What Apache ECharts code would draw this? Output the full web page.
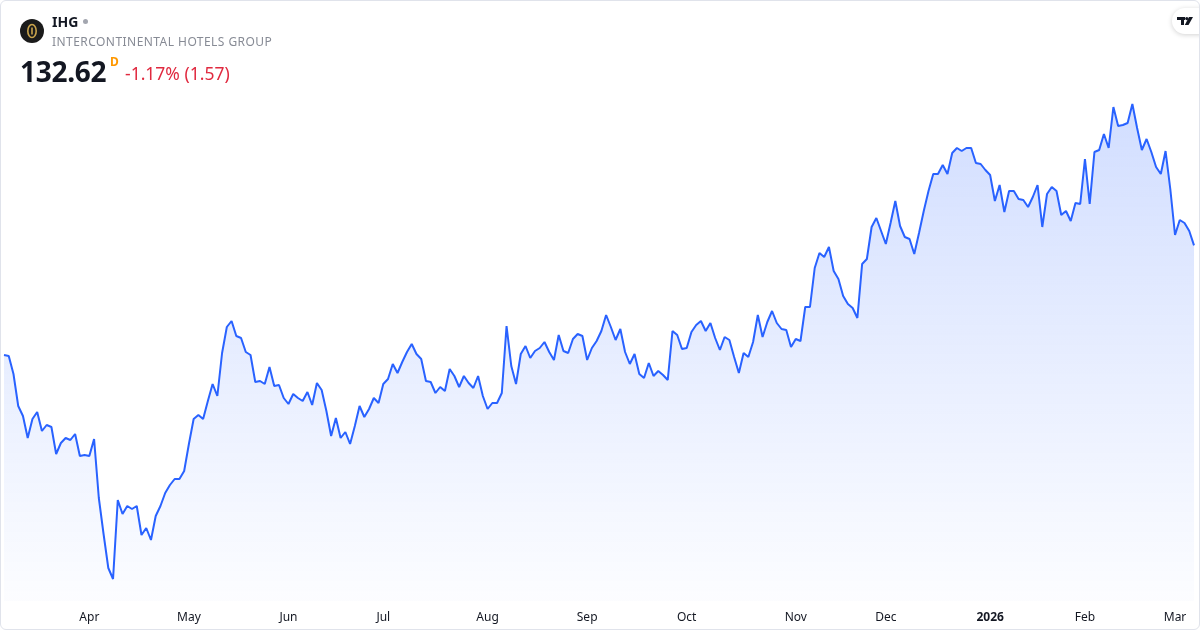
<!DOCTYPE html>
<html>
<head>
<meta charset="utf-8">
<script src="https://cdn.jsdelivr.net/npm/echarts@6/dist/echarts.min.js"></script>
<style>
  html, body { margin: 0; padding: 0; background: #fff; }
  #frame {
    position: absolute; left: 0; top: 0; width: 1198px; height: 628px;
    border: 1px solid #e0e3eb; border-radius: 6px; overflow: hidden;
    font-family: "Noto Sans", Roboto, sans-serif;
  }
  #myChart { position: absolute; left: 0; top: 0; width: 1198px; height: 628px; }
  .hdr { position: absolute; white-space: nowrap; z-index: 2; }
  #logo {
    position: absolute; left: 19px; top: 18px; width: 24px; height: 24px;
    border-radius: 50%; background: #1b1b1b; z-index: 2;
  }
  #tv {
    position: absolute; left: 1171px; top: 7px; width: 40px; height: 26px;
    border-radius: 13px; background: #fff; z-index: 2;
    box-shadow: 0 1px 5px rgba(0,0,0,0.18);
  }
</style>
</head>
<body>
<div id="frame">
  <div id="myChart"></div>
  <div id="logo">
    <svg width="24" height="24" viewBox="0 0 24 24">
      <ellipse cx="12" cy="12" rx="4.2" ry="6.5" fill="none" stroke="#c9a44c" stroke-width="1.6"/>
      <rect x="11.2" y="8.5" width="1.6" height="7" fill="#c9a44c"/>
    </svg>
  </div>
  <div class="hdr" style="left:51px; top:11px; font-size:14px; font-weight:700; color:#131722;">IHG</div>
  <div class="hdr" style="left:82px; top:18px; width:5px; height:5px; border-radius:50%; background:#a3a6af;"></div>
  <div class="hdr" style="left:51px; top:32px; font-size:12px; letter-spacing:0.45px; color:#878b95;">INTERCONTINENTAL HOTELS GROUP</div>
  <div class="hdr" style="left:19px; top:51px; font-size:28px; font-weight:700; color:#131722; letter-spacing:-0.3px;">132.62</div>
  <div class="hdr" style="left:109px; top:52px; font-size:12px; font-weight:700; color:#ff9800;">D</div>
  <div class="hdr" style="left:124px; top:60px; font-size:17.5px; color:#e0293f;">-1.17% (1.57)</div>
  <div id="tv">
    <svg width="26" height="26" viewBox="0 0 26 26">
      <rect x="5" y="9" width="8" height="3" fill="#131722"/>
      <rect x="9" y="9" width="3" height="8" fill="#131722"/>
      <circle cx="14.8" cy="10.6" r="1.6" fill="#131722"/>
      <polygon points="17,9 21,9 16.5,17 12.8,17" fill="#131722"/>
    </svg>
  </div>
</div>

<script>
// daily closes (one array per month)
const closesMar25 = [120.56, 120.45, 118.47, 114.95, 113.85, 111.43, 113.52, 114.29, 112.2, 112.86, 112.64, 109.67, 110.88, 111.43, 111.21, 111.87, 109.45, 109.56];
const closesApr25 = [109.45, 111.32, 104.83, 100.87, 97.13, 95.92, 104.61, 103.07, 103.95, 103.62, 103.95, 100.76, 101.53, 100.21, 102.85, 103.95, 105.38, 106.26, 106.92, 106.92, 107.8];
const closesMay25 = [110.77, 113.52, 113.96, 113.52, 115.5, 117.37, 116.05, 120.78, 123.64, 124.3, 122.65, 122.43, 120.89, 120.56, 117.59, 117.7, 117.37, 119.24, 117.15, 117.26, 115.83];
const closesJun25 = [115.17, 116.27, 115.83, 115.5, 116.49, 115.06, 117.48, 116.71, 114.4, 111.65, 113.63, 111.43, 112.09, 110.77, 112.75, 114.95, 113.74, 114.62, 115.83, 115.28];
const closesJul25 = [117.37, 117.92, 119.57, 118.58, 119.79, 120.89, 121.77, 120.67, 120.12, 117.7, 117.59, 116.38, 117.04, 116.6, 119.02, 118.25, 117.04, 118.25, 117.48, 116.93, 118.25, 116.05];
const closesAug25 = [114.62, 115.28, 115.28, 116.38, 123.75, 119.35, 117.37, 120.67, 121.55, 120.23, 121.0, 121.33, 121.99, 120.89, 120.01, 122.76, 121.0, 120.78, 122.32, 122.87, 122.65];
const closesSep25 = [120.01, 121.33, 122.1, 123.2, 124.96, 123.64, 122.21, 123.42, 120.89, 119.57, 120.67, 118.47, 118.03, 119.68, 118.25, 118.8, 118.36, 117.81, 123.2, 122.76, 121.22];
const closesOct25 = [121.33, 123.09, 123.86, 124.3, 123.2, 124.08, 122.43, 121.11, 122.54, 122.21, 120.34, 118.58, 120.78, 120.34, 121.99, 124.96, 122.54, 124.19, 125.4, 124.08, 123.42, 123.31, 121.44];
const closesNov25 = [122.32, 122.1, 125.84, 125.84, 130.13, 131.78, 131.34, 132.44, 129.8, 128.92, 127.05, 126.17, 125.73, 124.63, 130.57, 131.12, 134.64, 135.63, 134.2];
const closesDec25 = [132.77, 135.08, 137.5, 134.75, 133.54, 133.32, 131.67, 133.98, 136.4, 138.6, 140.47, 140.47, 141.46, 140.47, 142.78, 143.33, 143.0, 143.33, 143.33, 141.68, 141.57, 140.91];
const closesJan26 = [140.36, 137.5, 139.26, 136.29, 138.6, 138.6, 137.72, 137.61, 136.84, 137.94, 139.26, 134.64, 138.27, 139.04, 138.6, 135.96, 136.4, 135.3, 137.28, 137.17];
const closesFeb26 = [142.12, 137.17, 142.89, 143.11, 144.87, 143.33, 147.84, 145.75, 145.86, 146.08, 148.17, 145.53, 143.11, 144.32, 142.89, 141.24, 140.47, 143.0, 138.82];
const closesMar26 = [133.76, 135.41, 135.08, 134.2, 132.62];

const monthNames = ["Jan", "Feb", "Mar", "Apr", "May", "Jun", "Jul", "Aug", "Sep", "Oct", "Nov", "Dec"];
const marketHolidays = ["2025-04-18", "2025-05-26", "2025-06-19", "2025-07-04", "2025-09-01",
  "2025-11-27", "2025-12-25", "2026-01-01", "2026-01-19", "2026-02-16"];

const closes = [].concat(closesMar25, closesApr25, closesMay25, closesJun25, closesJul25, closesAug25,
  closesSep25, closesOct25, closesNov25, closesDec25, closesJan26, closesFeb26, closesMar26);

// trading days 2025-03-06 .. 2026-03-06
const dates = [];
let d = new Date(Date.UTC(2025, 2, 6));
const end = new Date(Date.UTC(2026, 2, 6));
while (d <= end) {
  const s = d.toISOString().slice(0, 10);
  const wd = d.getUTCDay();
  if (wd !== 0 && wd !== 6 && marketHolidays.indexOf(s) < 0) dates.push(s);
  d = new Date(d.getTime() + 86400000);
}

function isMonthStart(i) {
  return i > 0 && dates[i].slice(5, 7) !== dates[i - 1].slice(5, 7);
}

let myChart = echarts.init(document.getElementById("myChart"));
myChart.setOption({
  animation: false,
  grid: { left: 3, right: 5, top: 100, bottom: 28 },
  xAxis: {
    type: "category",
    boundaryGap: false,
    data: dates,
    axisLine: { show: false },
    axisTick: { show: false },
    splitLine: { show: false },
    axisLabel: {
      interval: (i) => isMonthStart(i),
      margin: 11,
      color: "#131722",
      fontSize: 12,
      fontFamily: "Noto Sans",
      formatter: (v) => {
        const m = parseInt(v.slice(5, 7), 10) - 1;
        if (m === 0) return "{yr|" + v.slice(0, 4) + "}";
        return monthNames[m];
      },
      rich: {
        yr: { fontWeight: "bold", fontSize: 12, color: "#131722", fontFamily: "Noto Sans" },
      },
    },
  },
  yAxis: {
    type: "value",
    min: 93.5,
    max: 148.5,
    show: false,
    splitLine: { show: false },
  },
  series: [
    {
      type: "line",
      data: closes,
      symbol: "none",
      lineStyle: { color: "#2962ff", width: 2 },
      areaStyle: {
        color: new echarts.graphic.LinearGradient(0, 0, 0, 1, [
          { offset: 0, color: "rgba(41,98,255,0.3)" },
          { offset: 1, color: "rgba(41,98,255,0.02)" },
        ]),
      },
    },
  ],
});
</script>
</body>
</html>
